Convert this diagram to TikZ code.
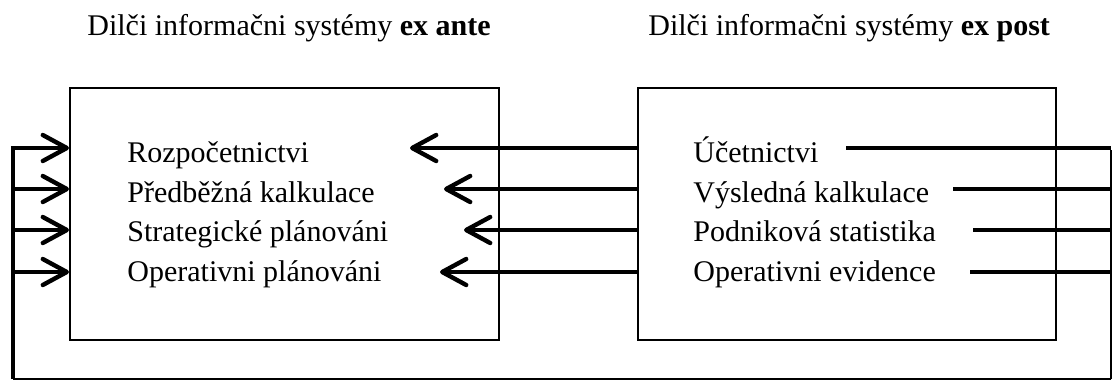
\documentclass[tikz,border=0pt]{standalone}
\usepackage{fontspec}
\setmainfont{Liberation Serif}
\usetikzlibrary{arrows.meta}
\begin{document}
\begin{tikzpicture}[x=0.5pt,y=-0.5pt,
  txt/.style={anchor=base west,inner sep=0pt,font=\fontsize{15}{18}\selectfont},
  frame/.style={draw,line width=0.75pt},
  flow/.style={line width=2.2pt},
  tip/.style={flow,-{Straight Barb[length=12pt,width=13pt,line width=2.2pt,round]}},
  side/.style={line width=1pt},
  base/.style={line width=0.7pt}]
\useasboundingbox (0,0) rectangle (1113,381);

% headings
\node[txt] (hA) at (87,35) {Dilči informačni systémy \textbf{ex ante}};
\node[txt] (hP) at (648,35) {Dilči informačni systémy \textbf{ex post}};

% the two system boxes
\node[frame,anchor=north west,minimum width=214.5pt,minimum height=126pt,inner sep=0pt] (A) at (69,87) {};
\node[frame,anchor=north west,minimum width=209pt,minimum height=126pt,inner sep=0pt] (P) at (637,87) {};

% ex ante items
\node[txt] (a1) at (127,162) {Rozpočetnictvi};
\node[txt] (a2) at (127,202) {Předběžná kalkulace};
\node[txt] (a3) at (127,241) {Strategické plánováni};
\node[txt] (a4) at (127,281) {Operativni plánováni};

% ex post items
\node[txt] (p1) at (693,162) {Účetnictvi};
\node[txt] (p2) at (693,202) {Výsledná kalkulace};
\node[txt] (p3) at (693,241) {Podniková statistika};
\node[txt] (p4) at (693,281) {Operativni evidence};

% arrow tips inside the ex ante box
\coordinate (t1) at (410,148);
\coordinate (t2) at (444,189);
\coordinate (t3) at (464,230);
\coordinate (t4) at (440,272);

% ex post -> ex ante
\draw[tip] (P.west |- t1) -- (t1);
\draw[tip] (P.west |- t2) -- (t2);
\draw[tip] (P.west |- t3) -- (t3);
\draw[tip] (P.west |- t4) -- (t4);

% feedback loop
\coordinate (s1) at (846,148);
\coordinate (s2) at (953,189);
\coordinate (s3) at (973,230);
\coordinate (s4) at (970,272);
\coordinate (rc) at (1111,148);
\coordinate (rb) at (1111,379);
\coordinate (lb) at (13,379);
\coordinate (lc) at (13,148);

\draw[flow] (s1) -- (rc);
\draw[flow] (s2) -- (rc |- s2);
\draw[flow] (s3) -- (rc |- s3);
\draw[flow] (s4) -- (rc |- s4);
\draw[side] ([yshift=-1.1pt]rc) -- (rb);
\draw[base] (rb) -- (lb);
\draw[flow] (lb) -- ([yshift=-1.1pt]lc);

% feedback entering the ex ante box
\draw[tip] ([xshift=-1.1pt]lc) -- (A.west |- t1);
\draw[tip] (lc |- t2) -- (A.west |- t2);
\draw[tip] (lc |- t3) -- (A.west |- t3);
\draw[tip] (lc |- t4) -- (A.west |- t4);
\end{tikzpicture}
\end{document}
